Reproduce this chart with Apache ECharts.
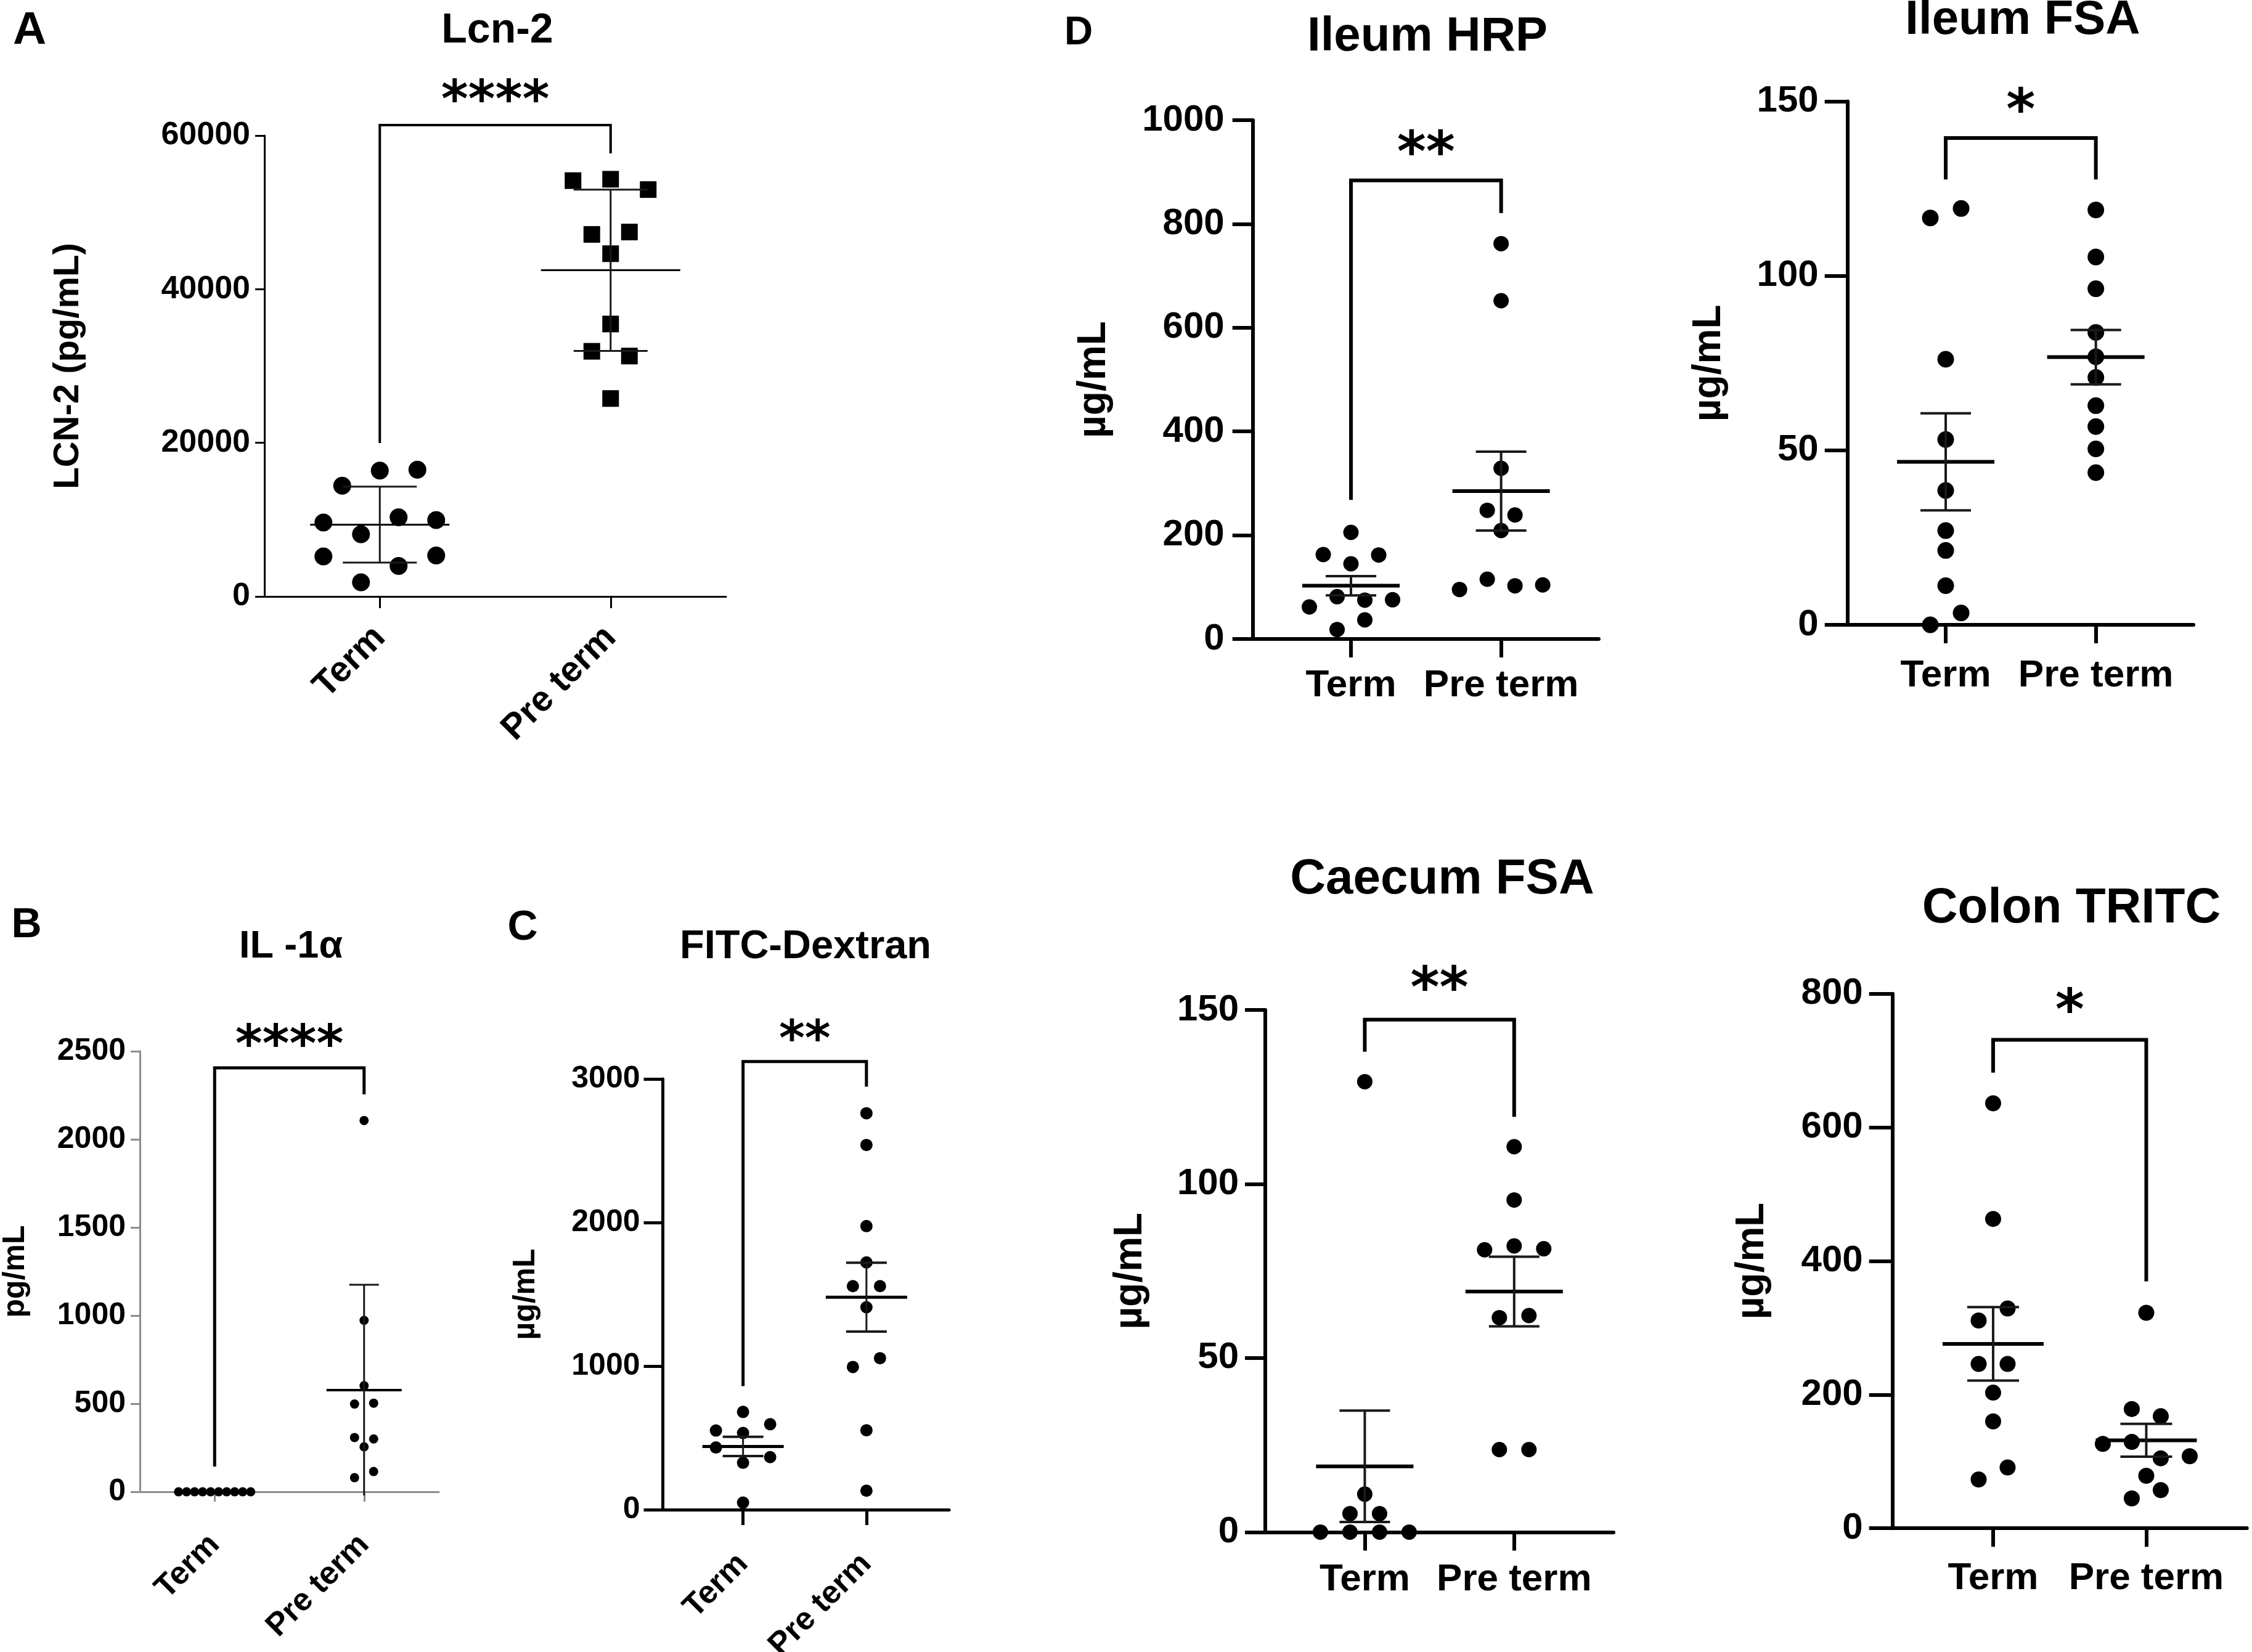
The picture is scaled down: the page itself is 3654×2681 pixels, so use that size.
<!DOCTYPE html>
<html><head><meta charset="utf-8">
<script src="https://cdn.jsdelivr.net/npm/echarts@6/dist/echarts.min.js"></script>
<style>html,body{margin:0;padding:0;background:#fff}#c{width:3654px;height:2681px}</style>
</head><body><div id="c"></div>
<script>
// ---------- DATA ----------
const groups = ['Term', 'Pre term'];

// A  Lcn-2 (pg/mL), mean ± SD
const lcnTerm = [14414, 16380, 16507, 9625, 8093, 10307, 9938, 5206, 1837, 3978, 5334];
const lcnPre = [54134, 54318, 52970, 47131, 47444, 44621, 35469, 31916, 31298, 25771];
const lcnMean = [9353, 42470];
const lcnErr = [4942, 10500];
const lcnBracket = [61361, 19972, 57671];
const lcnTicks = [0, 20000, 40000, 60000];

// B  IL-1α (pg/mL), mean ± SD
const ilTerm = [0, 0, 0, 0, 0, 0, 0, 0, 0, 0];
const ilPre = [2107, 973, 602, 498, 503, 308, 300, 255, 80, 115];
const ilMean = [0, 577];
const ilErr = [0, 598];
const ilBracket = [2406, 143, 2255];
const ilTicks = [0, 500, 1000, 1500, 2000, 2500];

// C  FITC-Dextran (µg/mL), mean ± SEM
const fitcTerm = [681, 551, 534, 595, 433, 327, 366, 49];
const fitcPre = [2761, 2540, 1975, 1722, 1557, 1557, 1410, 994, 1055, 553, 132];
const fitcMean = [440, 1480];
const fitcErr = [67, 240];
const fitcBracket = [3121, 860, 2946];
const fitcTicks = [0, 1000, 2000, 3000];

// D1 Ileum HRP (µg/mL)
const hrpTerm = [205.5, 162.7, 144.9, 161.9, 61.8, 81.6, 74.8, 75.6, 18.2, 36.8];
const hrpPre = [762, 652, 329, 248, 239, 209, 95.4, 115.2, 102.5, 104.2];
const hrpMean = [102.6, 285];
const hrpErr = [18.6, 76];
const hrpBracket = [884, 268, 821];
const hrpTicks = [0, 200, 400, 600, 800, 1000];

// D2 Ileum FSA (µg/mL)
const ifsaTerm = [116.6, 119.3, 76.1, 53.1, 38.5, 27, 21.3, 11.2, 0, 3.4];
const ifsaPre = [118.9, 105.4, 96.3, 83.8, 76.8, 70.9, 62.8, 56.8, 50.4, 43.6];
const ifsaMean = [46.7, 76.7];
const ifsaErr = [13.9, 7.8];
const ifsaBracket = [139.5, 127.6, 127.6];
const ifsaTicks = [0, 50, 100, 150];

// D3 Caecum FSA (µg/mL)
const cfsaTerm = [129.4, 10.9, 5.3, 5.3, 0, 0, 0, 0];
const cfsaPre = [110.7, 95.4, 81.1, 82.2, 81.4, 61.6, 62.2, 23.7, 23.7];
const cfsaMean = [18.9, 69.1];
const cfsaErr = [16, 10];
const cfsaBracket = [147.2, 138, 119.3];
const cfsaTicks = [0, 50, 100, 150];

// D4 Colon TRITC (µg/mL)
const colTerm = [636, 463, 311, 329, 246, 246, 203, 160, 73, 91];
const colPre = [322.5, 178.5, 167.7, 126.2, 129.3, 104.7, 107.8, 78.6, 44.7, 57.1];
const colMean = [276, 131.7];
const colErr = [55, 24.5];
const colBracket = [731, 682, 369.5];
const colTicks = [0, 200, 400, 600, 800];

// ---------- PANEL SETUP (layout + styles) ----------
const LB = 'Liberation Sans';
const panels = [
  {title: 'Lcn-2', titleFont: 'bold 68px "Liberation Sans"', titlePos: [807, 50], letter: 'A', letterPos: [48, 50], letterSize: 75,
   term: lcnTerm, pre: lcnPre, mean: lcnMean, err: lcnErr, bracket: lcnBracket, sig: '****', ticks: lcnTicks, yName: 'LCN-2 (pg/mL)',
   grid: {left: 429, top: 220, width: 749, height: 748}, xMin: 0.5, xMax: 2.5,
   axisColor: '#000', axisW: 3, yTickLen: 15, xTickLen: 19, tickFam: LB, tickSize: 52, yLabMargin: 23,
   xRot: 45, xLabFam: LB, xLabSize: 58, xLabMargin: 58, yNameFam: LB, yNameSize: 58, yNameGap: 289,
   termSym: 'circle', preSym: 'rect', termSize: 29, preSize: 27, rowH: 30, spTerm: 61, spPre: 61,
   meanHalf: 113, capHalf: 60, meanW: 3, capW: 3, barW: 3, brW: 4, sigSize: 84, sigGap: 50},
  {title: 'IL -1\u03b1', titleFont: 'bold 63px "Liberation Sans"', titlePos: [472, 1537], letter: 'B', letterPos: [43, 1502], letterSize: 68,
   term: ilTerm, pre: ilPre, mean: ilMean, err: ilErr, bracket: ilBracket, sig: '****', ticks: ilTicks, yName: 'pg/mL',
   grid: {left: 227, top: 1706, width: 485, height: 715}, xMin: 0.5, xMax: 2.5,
   axisColor: '#8c8c8c', axisW: 3, yTickLen: 15, xTickLen: 16, tickFam: LB, tickSize: 50, yLabMargin: 23,
   xRot: 45, xLabFam: LB, xLabSize: 52, xLabMargin: 78, yNameFam: LB, yNameSize: 50, yNameGap: 177,
   termSym: 'circle', preSym: 'circle', termSize: 15, preSize: 15, rowH: 11, spTerm: 13, spPre: 31,
   meanHalf: 61, capHalf: 24, meanW: 4, capW: 3, barW: 3, brW: 5, sigSize: 84, sigGap: 47},
  {title: 'FITC-Dextran', titleFont: 'bold 65px "Liberation Sans"', titlePos: [1307, 1537], letter: 'C', letterPos: [848, 1506], letterSize: 68,
   term: fitcTerm, pre: fitcPre, mean: fitcMean, err: fitcErr, bracket: fitcBracket, sig: '**', ticks: fitcTicks, yName: '\u00b5g/mL',
   grid: {left: 1075.5, top: 1751, width: 464.5, height: 699}, xMin: 0.35, xMax: 2.67,
   axisColor: '#000', axisW: 5, yTickLen: 31, xTickLen: 25, tickFam: LB, tickSize: 50, yLabMargin: 37,
   xRot: 45, xLabFam: LB, xLabSize: 52, xLabMargin: 80, yNameFam: LB, yNameSize: 50, yNameGap: 197,
   termSym: 'circle', preSym: 'circle', termSize: 20, preSize: 20, rowH: 19, spTerm: 44, spPre: 44,
   meanHalf: 66, capHalf: 33, meanW: 5, capW: 4, barW: 3, brW: 5, sigSize: 80, sigGap: 45},
  {title: 'Ileum HRP', titleFont: 'bold 78px "Liberation Sans"', titlePos: [2316, 60], letter: 'D', letterPos: [1750, 54], letterSize: 64,
   term: hrpTerm, pre: hrpPre, mean: hrpMean, err: hrpErr, bracket: hrpBracket, sig: '**', ticks: hrpTicks, yName: '\u00b5g/mL',
   grid: {left: 2032.7, top: 195, width: 561.3, height: 842}, xMin: 0.346, xMax: 2.65,
   axisColor: '#000', axisW: 6, yTickLen: 33, xTickLen: 30, tickFam: LB, tickSize: 60, yLabMargin: 46,
   xRot: 0, xLabFam: LB, xLabSize: 62, xLabMargin: 45, yNameFam: LB, yNameSize: 64, yNameGap: 225,
   termSym: 'circle', preSym: 'circle', termSize: 25, preSize: 25, rowH: 20, spTerm: 45, spPre: 45,
   meanHalf: 79, capHalf: 41, meanW: 6, capW: 4, barW: 4, brW: 6, sigSize: 90, sigGap: 54},
  {title: 'Ileum FSA', titleFont: 'bold 78px "Liberation Sans"', titlePos: [3282, 33],
   term: ifsaTerm, pre: ifsaPre, mean: ifsaMean, err: ifsaErr, bracket: ifsaBracket, sig: '*', ticks: ifsaTicks, yName: '\u00b5g/mL',
   grid: {left: 2997.7, top: 164.5, width: 561.3, height: 849.5}, xMin: 0.346, xMax: 2.65,
   axisColor: '#000', axisW: 6, yTickLen: 37, xTickLen: 30, tickFam: LB, tickSize: 60, yLabMargin: 47,
   xRot: 0, xLabFam: LB, xLabSize: 62, xLabMargin: 52, yNameFam: LB, yNameSize: 64, yNameGap: 192,
   termSym: 'circle', preSym: 'circle', termSize: 27, preSize: 27, rowH: 20, spTerm: 50, spPre: 50,
   meanHalf: 79, capHalf: 41, meanW: 6, capW: 4, barW: 4, brW: 6, sigSize: 90, sigGap: 55},
  {title: 'Caecum FSA', titleFont: 'bold 80px "Liberation Sans"', titlePos: [2340, 1428],
   term: cfsaTerm, pre: cfsaPre, mean: cfsaMean, err: cfsaErr, bracket: cfsaBracket, sig: '**', ticks: cfsaTicks, yName: '\u00b5g/mL',
   grid: {left: 2053, top: 1639, width: 565, height: 847.4}, xMin: 0.334, xMax: 2.665,
   axisColor: '#000', axisW: 6, yTickLen: 33, xTickLen: 30, tickFam: LB, tickSize: 60, yLabMargin: 43,
   xRot: 0, xLabFam: LB, xLabSize: 62, xLabMargin: 47, yNameFam: LB, yNameSize: 64, yNameGap: 187,
   termSym: 'circle', preSym: 'circle', termSize: 25, preSize: 25, rowH: 20, spTerm: 48, spPre: 48,
   meanHalf: 79, capHalf: 41, meanW: 6, capW: 4, barW: 4, brW: 6, sigSize: 90, sigGap: 60},
  {title: 'Colon TRITC', titleFont: 'bold 80px "Liberation Sans"', titlePos: [3361, 1475],
   term: colTerm, pre: colPre, mean: colMean, err: colErr, bracket: colBracket, sig: '*', ticks: colTicks, yName: '\u00b5g/mL',
   grid: {left: 3070.7, top: 1612.7, width: 575, height: 867.5}, xMin: 0.343, xMax: 2.657,
   axisColor: '#000', axisW: 6, yTickLen: 38, xTickLen: 30, tickFam: LB, tickSize: 60, yLabMargin: 48,
   xRot: 0, xLabFam: LB, xLabSize: 62, xLabMargin: 51, yNameFam: LB, yNameSize: 64, yNameGap: 195,
   termSym: 'circle', preSym: 'circle', termSize: 26, preSize: 26, rowH: 20, spTerm: 47, spPre: 47,
   meanHalf: 82, capHalf: 42, meanW: 6, capW: 4, barW: 4, brW: 6, sigSize: 90, sigGap: 57}
];

// Row-based swarm layout (GraphPad-like): values close in pixel height share a row, centred on the group.
function swarm(values, pxPerUnit, rowH, spacing) {
  const idx = values.map((v, i) => i).sort((a, b) => values[b] - values[a] || a - b);
  const rows = []; let cur = null, lastY = null;
  idx.forEach(i => {
    const y = values[i] * pxPerUnit;
    if (cur && lastY - y <= rowH) cur.push(i); else { cur = [i]; rows.push(cur); }
    lastY = y;
  });
  const off = new Array(values.length).fill(0);
  rows.forEach(r => { r.sort((a, b) => a - b); r.forEach((i, k) => { off[i] = (k - (r.length - 1) / 2) * spacing; }); });
  return off;
}

const option = {animation: false, backgroundColor: '#ffffff', grid: [], xAxis: [], yAxis: [], series: [], graphic: []};

panels.forEach((p, i) => {
  const yMin = p.ticks[0], yMax = p.ticks[p.ticks.length - 1], yInt = p.ticks[1] - p.ticks[0];
  option.grid.push({left: p.grid.left, top: p.grid.top, width: p.grid.width, height: p.grid.height,
    containLabel: false, outerBoundsMode: 'none', show: false});
  option.xAxis.push({
    gridIndex: i, type: 'value', min: p.xMin, max: p.xMax,
    axisLine: {show: true, onZero: false, lineStyle: {color: p.axisColor, width: p.axisW}},
    axisTick: {show: true, customValues: [1, 2], length: p.xTickLen, lineStyle: {color: p.axisColor, width: p.axisW}},
    axisLabel: {show: true, customValues: [1, 2], formatter: v => groups[Math.round(v) - 1] || '',
      rotate: p.xRot, margin: p.xLabMargin, color: '#000', fontFamily: p.xLabFam, fontSize: p.xLabSize, fontWeight: 'bold'},
    splitLine: {show: false}
  });
  option.yAxis.push({
    gridIndex: i, type: 'value', min: yMin, max: yMax, interval: yInt,
    axisLine: {show: true, onZero: false, lineStyle: {color: p.axisColor, width: p.axisW}},
    axisTick: {show: true, length: p.yTickLen, lineStyle: {color: p.axisColor, width: p.axisW}},
    axisLabel: {show: true, formatter: v => String(v), margin: p.yLabMargin, color: '#000',
      fontFamily: p.tickFam, fontSize: p.tickSize, fontWeight: 'bold'},
    splitLine: {show: false},
    name: p.yName, nameLocation: 'middle', nameRotate: 90, nameGap: p.yNameGap,
    nameTextStyle: {fontFamily: p.yNameFam, fontSize: p.yNameSize, fontWeight: 'bold', color: '#000'}
  });

  const pxY = p.grid.height / (yMax - yMin);
  const unitX = p.grid.width / (p.xMax - p.xMin);
  const offT = swarm(p.term, pxY, p.rowH, p.spTerm);
  const offP = swarm(p.pre, pxY, p.rowH, p.spPre);
  option.series.push({type: 'scatter', xAxisIndex: i, yAxisIndex: i, symbol: p.termSym, symbolSize: p.termSize, clip: false,
    itemStyle: {color: '#000', opacity: 1}, data: p.term.map((v, k) => [1 + offT[k] / unitX, v]), z: 2});
  option.series.push({type: 'scatter', xAxisIndex: i, yAxisIndex: i, symbol: p.preSym, symbolSize: p.preSize, clip: false,
    itemStyle: {color: '#000', opacity: 1}, data: p.pre.map((v, k) => [2 + offP[k] / unitX, v]), z: 2});

  // mean line + error bars
  option.series.push({type: 'custom', xAxisIndex: i, yAxisIndex: i, clip: false, z: 3,
    data: p.mean.map((m, k) => [k + 1, m, p.err[k]]),
    renderItem: (params, api) => {
      const x = api.value(0), m = api.value(1), e = api.value(2);
      const c = api.coord([x, m]);
      const ch = [{type: 'line', shape: {x1: c[0] - p.meanHalf, y1: c[1], x2: c[0] + p.meanHalf, y2: c[1]},
        style: {stroke: '#000', lineWidth: p.meanW}}];
      if (e > 0) {
        const hi = api.coord([x, m + e]), lo = api.coord([x, m - e]);
        ch.push({type: 'line', shape: {x1: c[0], y1: hi[1], x2: c[0], y2: lo[1]}, style: {stroke: '#1a1a1a', lineWidth: p.barW}});
        ch.push({type: 'line', shape: {x1: c[0] - p.capHalf, y1: hi[1], x2: c[0] + p.capHalf, y2: hi[1]}, style: {stroke: '#1a1a1a', lineWidth: p.capW}});
        if (m - e >= 0) ch.push({type: 'line', shape: {x1: c[0] - p.capHalf, y1: lo[1], x2: c[0] + p.capHalf, y2: lo[1]}, style: {stroke: '#1a1a1a', lineWidth: p.capW}});
      }
      return {type: 'group', children: ch};
    }
  });

  // significance bracket
  option.series.push({type: 'custom', xAxisIndex: i, yAxisIndex: i, clip: false, z: 4,
    data: [[1, 2, p.bracket[0], p.bracket[1], p.bracket[2]]],
    renderItem: (params, api) => {
      const x1 = api.value(0), x2 = api.value(1), top = api.value(2), l = api.value(3), r = api.value(4);
      const a = api.coord([x1, l]), b = api.coord([x1, top]), c = api.coord([x2, top]), d = api.coord([x2, r]);
      return {type: 'group', children: [
        {type: 'polyline', shape: {points: [a, b, c, d]}, style: {stroke: '#000', fill: null, lineWidth: p.brW}},
        {type: 'text', x: (b[0] + c[0]) / 2, y: b[1] - p.sigGap + p.sigSize * 0.17,
          style: {text: p.sig, fill: '#000', font: 'bold ' + p.sigSize + 'px "DejaVu Sans"', align: 'center', verticalAlign: 'middle'}}
      ]};
    }
  });

  option.graphic.push({type: 'text', x: p.titlePos[0], y: p.titlePos[1],
    style: {text: p.title, font: p.titleFont, fill: '#000', align: 'center', verticalAlign: 'middle'}});
  if (p.letter) option.graphic.push({type: 'text', x: p.letterPos[0], y: p.letterPos[1],
    style: {text: p.letter, font: 'bold ' + p.letterSize + 'px "Liberation Sans"', fill: '#000', align: 'center', verticalAlign: 'middle'}});
});

const chart = echarts.init(document.getElementById('c'), null, {renderer: 'canvas', width: 3654, height: 2681});
chart.setOption(option);
</script>
</body></html>
